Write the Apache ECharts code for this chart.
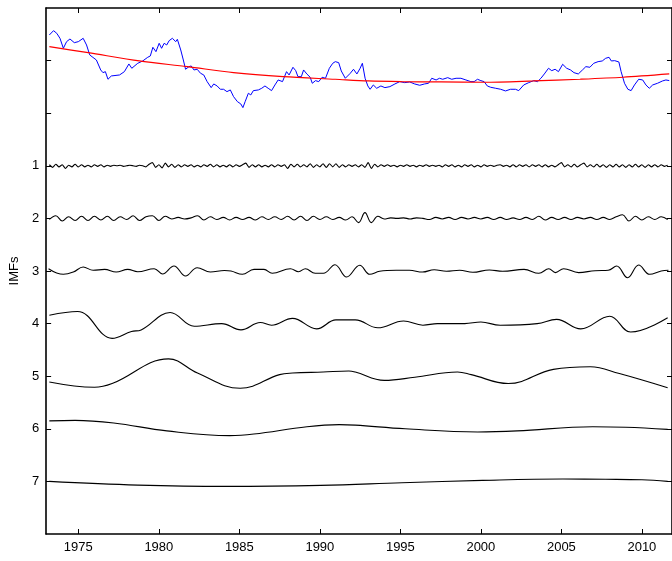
<!DOCTYPE html>
<html><head><meta charset="utf-8">
<script src="https://cdn.jsdelivr.net/npm/echarts@6/dist/echarts.min.js"></script>
<style>html,body{margin:0;padding:0;background:#fff}#c{width:672px;height:561px}</style>
</head><body><div id="c"></div><script>
const yearTicks = [1975,1980,1985,1990,1995,2000,2005,2010];
const imfLabels = ['1','2','3','4','5','6','7'];
const axisTitle = 'IMFs';

const signalYears = [1973.2,1973.46,1973.66,1973.86,1974.07,1974.27,1974.48,1974.75,1975.0,1975.3,1975.51,1975.71,1976.12,1976.39,1976.53,1976.68,1976.84,1977.05,1977.56,1977.86,1978.14,1978.32,1978.44,1978.69,1979.0,1979.31,1979.47,1979.63,1979.82,1980.02,1980.17,1980.33,1980.49,1980.64,1980.84,1981.05,1981.15,1981.36,1981.52,1981.66,1981.87,1982.01,1982.18,1982.38,1982.59,1982.79,1983.0,1983.25,1983.41,1983.62,1983.82,1984.02,1984.23,1984.44,1984.64,1984.88,1985.09,1985.22,1985.36,1985.56,1985.71,1985.87,1986.18,1986.39,1986.59,1986.79,1987.0,1987.21,1987.41,1987.68,1987.93,1988.09,1988.33,1988.5,1988.64,1988.85,1988.99,1989.19,1989.4,1989.53,1989.73,1989.93,1990.14,1990.35,1990.59,1990.8,1990.96,1991.17,1991.33,1991.58,1991.89,1992.09,1992.3,1992.5,1992.64,1992.81,1992.98,1993.12,1993.32,1993.53,1993.79,1994.04,1994.35,1994.66,1994.96,1995.27,1995.58,1995.89,1996.2,1996.5,1996.75,1996.95,1997.22,1997.43,1997.63,1997.94,1998.19,1998.46,1998.76,1999.07,1999.38,1999.58,1999.79,2000.0,2000.2,2000.4,2000.61,2000.92,2001.23,2001.53,2001.84,2002.15,2002.35,2002.66,2002.97,2003.28,2003.52,2003.73,2003.94,2004.2,2004.4,2004.61,2004.82,2005.08,2005.33,2005.57,2005.78,2006.05,2006.31,2006.52,2006.77,2007.01,2007.28,2007.54,2007.75,2007.96,2008.1,2008.31,2008.57,2008.71,2008.92,2009.13,2009.33,2009.54,2009.8,2010.05,2010.25,2010.46,2010.67,2010.97,2011.28,2011.49,2011.7];
const signalValues = [1.487,1.569,1.519,1.424,1.234,1.36,1.411,1.341,1.36,1.424,1.297,1.107,1.012,0.822,0.771,0.79,0.645,0.708,0.727,0.79,0.936,0.854,0.822,0.949,0.993,1.063,1.088,1.253,1.17,1.329,1.234,1.329,1.297,1.379,1.424,1.36,1.405,1.202,1.012,0.835,0.885,0.898,0.822,0.835,0.759,0.727,0.6,0.486,0.556,0.518,0.455,0.455,0.41,0.442,0.315,0.22,0.176,0.106,0.22,0.379,0.347,0.429,0.442,0.474,0.518,0.474,0.429,0.537,0.632,0.6,0.79,0.727,0.873,0.809,0.695,0.695,0.822,0.746,0.683,0.569,0.619,0.6,0.683,0.664,0.854,0.949,0.98,0.961,0.803,0.664,0.759,0.835,0.746,0.854,0.949,0.664,0.518,0.455,0.537,0.474,0.518,0.486,0.505,0.556,0.6,0.581,0.594,0.556,0.531,0.556,0.569,0.664,0.632,0.664,0.645,0.676,0.645,0.664,0.664,0.632,0.6,0.6,0.645,0.619,0.6,0.518,0.493,0.474,0.455,0.423,0.455,0.455,0.429,0.537,0.581,0.619,0.6,0.664,0.746,0.854,0.809,0.835,0.79,0.93,0.854,0.822,0.771,0.746,0.822,0.885,0.873,0.949,0.98,0.993,1.044,1.063,0.993,0.999,0.974,0.79,0.569,0.455,0.429,0.537,0.645,0.632,0.537,0.474,0.537,0.569,0.613,0.632,0.62];

const trendYears = [1973.2,1975.61,1978.79,1981.77,1984.64,1987.72,1990.96,1993.01,1995.07,1997.53,2000.2,2003.28,2006.15,2008.82,2011.7];
const trendValues = [1.265,1.151,0.993,0.885,0.771,0.695,0.645,0.613,0.6,0.594,0.588,0.613,0.645,0.683,0.746];

const imf1Start = 1973.2, imf1Step = 0.2;
const imf1Values = [
0.02,-0.03,0.03,-0.02,0.02,-0.05,0.01,-0.02,0.03,-0.02,
0.02,-0.02,0.01,-0.02,0.02,-0.01,0.02,-0.02,0.01,-0.01,
0.01,0,0.01,-0.01,0,0.01,0,-0.01,0.01,0,
-0.02,0.03,0.06,-0.03,0.02,-0.04,0.05,-0.02,0.03,-0.03,
0.02,-0.02,0.02,-0.01,0.02,-0.02,0.01,-0.02,0.02,-0.01,
0.03,-0.02,0.02,-0.02,0.01,-0.02,0.02,-0.02,0.02,-0.01,
0.02,0.05,-0.03,0.02,-0.02,0.02,-0.02,0.01,-0.02,0.02,
-0.02,0.02,-0.01,0.02,-0.05,0.03,-0.02,0.03,-0.02,0.02,
-0.02,0.04,-0.03,0.02,-0.02,0.04,-0.03,0.04,-0.02,0.04,
-0.03,0.02,-0.02,0.02,-0.01,0.02,-0.02,0.02,-0.03,0.06,
-0.05,0.03,-0.02,0.02,-0.01,0.02,-0.01,0.01,-0.02,0.01,
-0.01,0.02,-0.01,0.01,-0.02,0.01,-0.01,0.02,-0.01,0.01,
-0.01,0.01,-0.02,0.02,-0.01,0.02,-0.02,0.01,-0.02,0.02,
-0.01,0.02,-0.02,0.01,-0.02,0.02,-0.01,0.01,-0.01,0.01,
0.02,-0.01,0.01,-0.02,0.02,-0.02,0.02,-0.01,0.02,-0.02,
0.02,-0.01,0.02,-0.02,0.02,-0.02,0.01,-0.02,0.02,0.06,
-0.02,0.02,-0.02,0.03,-0.02,0.02,0.05,-0.02,0.02,-0.02,
0.03,-0.02,0.02,-0.03,0.02,-0.02,0.03,-0.02,0.02,-0.03,
0.02,-0.02,0.03,-0.02,0.02,-0.03,0.02,-0.02,0.02,-0.02,
0.02,-0.01,0.01];

const imf2Start = 1973.2, imf2Step = 0.4;
const imf2Values = [
-0.02,0.05,-0.05,0.03,-0.04,0.04,-0.04,0.04,-0.03,0.04,
-0.04,0.03,-0.02,0.05,-0.04,0.03,0.05,-0.04,0.04,-0.01,
0.02,-0.01,0.01,0.05,-0.03,0.03,-0.02,0.02,-0.03,0.02,
-0.02,0.02,-0.03,0.03,-0.02,0.03,-0.02,0.04,-0.03,0.04,
-0.04,0.04,-0.02,0.03,-0.02,0.02,-0.03,0.03,-0.08,0.11,
-0.08,0.04,-0.01,0.01,0,0.01,-0.01,0.01,0,-0.02,
0.02,-0.01,0.02,-0.02,0.02,-0.01,0.02,-0.01,0.02,-0.02,
0.02,-0.02,0.01,-0.02,0.02,-0.02,0.04,-0.03,0.02,-0.02,
0.02,-0.02,0.02,-0.01,0.02,-0.02,0.02,-0.02,0.03,0.07,
-0.05,0.04,-0.03,0.03,-0.02,0.03,-0.02];

const imf3Years = [1973.15,1974.07,1974.69,1975.3,1975.92,1976.63,1977.35,1978.07,1978.69,1979.71,1980.23,1980.94,1981.66,1982.38,1983.2,1984.07,1984.48,1985.19,1985.91,1986.53,1987.04,1988.17,1988.68,1989.1,1989.71,1990.22,1990.94,1991.66,1992.48,1993.1,1993.71,1994.74,1995.56,1996.38,1997.1,1997.86,1998.68,1999.5,2000.53,2001.35,2002.68,2003.6,2004.22,2004.63,2005.14,2006.07,2007.09,2007.91,2008.43,2009.11,2009.8,2010.48,2011.2,2011.65];
const imf3Values = [0.044,-0.063,-0.02,0.076,0.013,0.03,-0.02,0.03,-0.013,0.044,-0.057,0.095,-0.095,0.063,-0.02,0.01,0.0,-0.063,0.03,0.03,-0.044,0.044,-0.013,0.044,-0.044,-0.044,0.12,-0.114,0.108,-0.063,-0.006,0.013,0.013,-0.02,0.025,-0.006,0.013,-0.025,0.02,-0.006,0.03,-0.044,0.044,-0.03,0.044,-0.03,0.006,0.013,0.095,-0.127,0.114,-0.063,0.0,0.013];

const imf4Years = [1973.2,1974.95,1977.1,1978.3,1978.9,1980.7,1982.2,1983.9,1985.1,1986.3,1987.0,1988.3,1989.8,1991.0,1992.2,1993.6,1995.2,1996.4,1997.3,1999.0,2000.0,2001.2,2003.5,2004.7,2006.2,2008.0,2009.3,2011.6];
const imf4Values = [0.16,0.23,-0.28,-0.15,-0.12,0.21,-0.05,0.0,-0.12,0.02,-0.03,0.1,-0.1,0.07,0.07,-0.08,0.05,-0.03,0.0,0.0,0.03,-0.03,0.0,0.08,-0.1,0.14,-0.16,0.11];

const imf5Years = [1973.2,1976.0,1977.1,1980.6,1982.4,1985.05,1987.5,1988.3,1990.2,1991.8,1992.2,1994.0,1995.9,1998.55,1999.4,2001.7,2004.5,2006.8,2008.6,2011.6];
const imf5Values = [-0.11,-0.21,-0.14,0.33,0.06,-0.23,0.03,0.06,0.08,0.1,0.08,-0.08,-0.02,0.08,0.03,-0.14,0.13,0.18,0.05,-0.22];

const imf6Years = [1973.2,1974.8,1977.2,1980.5,1984.4,1985.9,1989.2,1991.2,1992.2,1995.3,1999.8,2002.25,2006.95,2009.0,2011.6];
const imf6Values = [0.15,0.16,0.11,-0.04,-0.13,-0.1,0.04,0.08,0.07,0.0,-0.06,-0.04,0.04,0.03,-0.01];

const imf7Years = [1973.2,1978.7,1984.2,1990.05,1995.1,2000.1,2005.1,2007.75,2010.0,2011.6];
const imf7Values = [0.0,-0.07,-0.095,-0.075,-0.025,0.02,0.045,0.04,0.03,0.0];

function pairs(xs, ys, off) { return xs.map((x, i) => [x, ys[i] + off]); }
function uniform(start, step, ys, off) { return ys.map((y, i) => [+(start + i * step).toFixed(2), y + off]); }

const FONT = 'Liberation Sans, Arial, Helvetica, sans-serif';
const imfSeries = [
  uniform(imf1Start, imf1Step, imf1Values, 7),
  uniform(imf2Start, imf2Step, imf2Values, 6),
  pairs(imf3Years, imf3Values, 5),
  pairs(imf4Years, imf4Values, 4),
  pairs(imf5Years, imf5Values, 3),
  pairs(imf6Years, imf6Values, 2),
  pairs(imf7Years, imf7Values, 1)
];
const smoothness = [0.2, 0.4, 0.4, 0.4, 0.4, 0.4, 0.4];

const series = [
  { type: 'line', data: pairs(signalYears, signalValues, 8), symbol: 'none', lineStyle: { color: '#0000ff', width: 1 }, z: 3 },
  { type: 'line', data: pairs(trendYears, trendValues, 8), symbol: 'none', smooth: 0.3, lineStyle: { color: '#ff0000', width: 1.2 }, z: 4 }
].concat(imfSeries.map((d, i) => ({
  type: 'line', data: d, symbol: 'none', smooth: smoothness[i],
  lineStyle: { color: '#000', width: 1.1 }, z: 2
})));

const ytickVals = [1,2,3,4,5,6,7,8,9];
const tickStyle = { color: '#000', width: 1 };
const frameStyle = { color: '#000', width: 1.6 };
const chart = echarts.init(document.getElementById('c'), null, { renderer: 'canvas' });
chart.setOption({
  animation: false,
  backgroundColor: '#fff',
  grid: { left: 44, right: -4, top: 8, bottom: 27, containLabel: false },
  xAxis: [
    { type: 'value', position: 'bottom', min: 1973, max: 2011.87, z: 10,
      axisLine: { show: true, onZero: false, lineStyle: frameStyle },
      axisTick: { show: true, inside: true, length: 5, customValues: yearTicks, lineStyle: tickStyle },
      axisLabel: { show: true, customValues: yearTicks, margin: 7, color: '#000', fontSize: 13, fontFamily: FONT, formatter: v => String(v) },
      splitLine: { show: false } },
    { type: 'value', position: 'top', min: 1973, max: 2011.87, z: 10,
      axisLine: { show: true, onZero: false, lineStyle: frameStyle },
      axisTick: { show: true, inside: true, length: 5, customValues: yearTicks, lineStyle: tickStyle },
      axisLabel: { show: false }, splitLine: { show: false } }
  ],
  yAxis: [
    { type: 'value', position: 'left', min: 0, max: 10, z: 10,
      name: axisTitle, nameLocation: 'middle', nameGap: 22, nameRotate: 90,
      nameTextStyle: { color: '#000', fontSize: 13, fontFamily: FONT },
      axisLine: { show: true, onZero: false, lineStyle: frameStyle },
      axisTick: { show: true, inside: true, length: 5, customValues: ytickVals, lineStyle: tickStyle },
      axisLabel: { customValues: [1,2,3,4,5,6,7], margin: 7, color: '#000', fontSize: 13, fontFamily: FONT,
        formatter: v => imfLabels[7 - v] },
      splitLine: { show: false } },
    { type: 'value', position: 'right', min: 0, max: 10, z: 10,
      axisLine: { show: true, onZero: false, lineStyle: frameStyle },
      axisTick: { show: true, inside: true, length: 5, customValues: ytickVals, lineStyle: tickStyle },
      axisLabel: { show: false }, splitLine: { show: false } }
  ],
  series: series
});
</script></body></html>
